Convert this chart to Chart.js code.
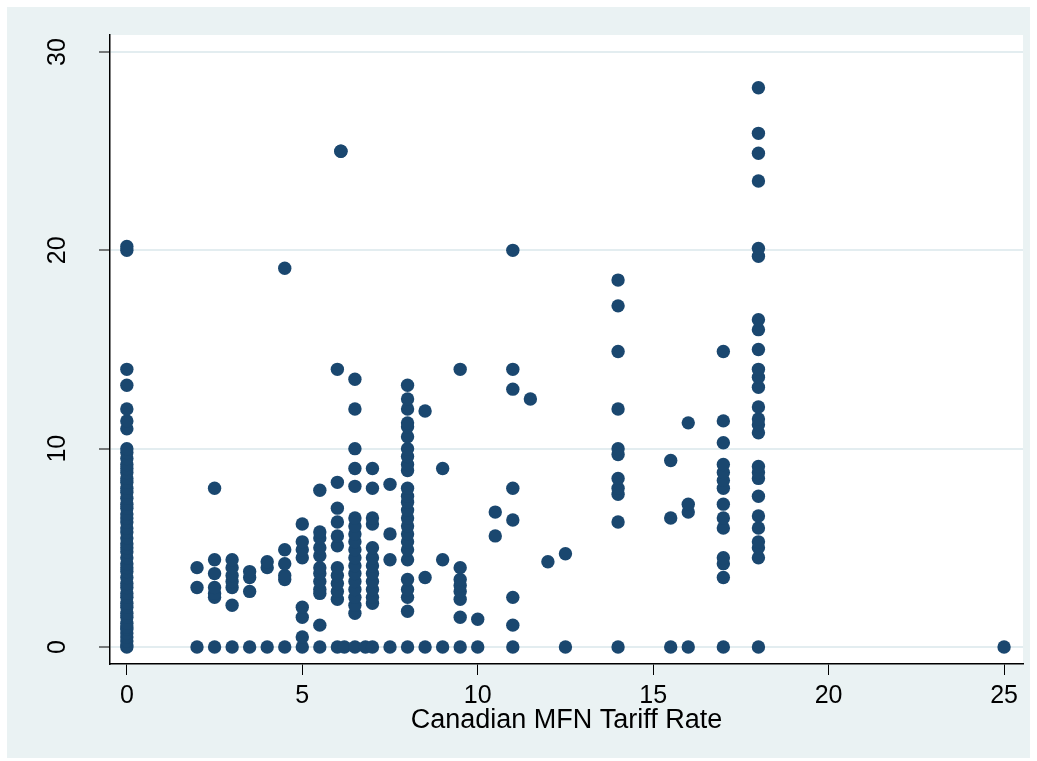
<!DOCTYPE html>
<html>
<head>
<meta charset="utf-8">
<script src="https://cdn.jsdelivr.net/npm/chart.js@4.4.0/dist/chart.umd.min.js"></script>
<style>
  html, body { margin: 0; padding: 0; background: #ffffff; }
  #frame { position: absolute; left: 7px; top: 7px; width: 1023px; height: 751px; background: #eaf2f3; }
</style>
</head>
<body>
<div id="frame"><canvas id="scatter" width="1023" height="751"></canvas></div>
<script>
// y values (second variable) for each Canadian MFN tariff rate
const rate0 = [0, 0.1, 0.3, 0.5, 0.7, 0.9, 1.0, 1.2, 1.5, 1.7, 2.0, 2.2, 2.5, 2.7, 3.0, 3.2, 3.5, 3.8, 4.0, 4.2, 4.5, 4.8, 5.0, 5.2, 5.5, 5.8, 6.0, 6.3, 6.5, 6.7, 7.0, 7.2, 7.5, 7.8, 8.0, 8.3, 8.5, 8.8, 9.0, 9.2, 9.5, 9.8, 10.0, 11.0, 11.4, 12.0, 13.2, 14.0, 20.0, 20.2];
const rate2 = [0, 3.0, 4.0];
const rate2_5 = [0, 2.5, 2.7, 3.0, 3.7, 4.4, 8.0];
const rate3 = [0, 2.1, 3.0, 3.3, 3.6, 4.0, 4.4];
const rate3_5 = [0, 2.8, 3.5, 3.8];
const rate4 = [0, 4.0, 4.3];
const rate4_5 = [0, 3.4, 3.6, 4.2, 4.9, 19.1];
const rate5 = [0, 0.5, 1.5, 2.0, 4.5, 4.9, 5.3, 6.2];
const rate5_5 = [0, 1.1, 2.7, 2.9, 3.3, 3.7, 4.0, 4.6, 5.0, 5.5, 5.8, 7.9];
const rate6 = [0, 2.4, 2.8, 3.2, 3.6, 4.0, 5.1, 5.6, 6.3, 7.0, 8.3, 14.0];
const rate6_1 = [25.0, 25.0];
const rate6_2 = [0];
const rate6_5 = [0, 1.7, 2.1, 2.5, 2.9, 3.3, 3.7, 4.1, 4.5, 4.9, 5.3, 5.7, 6.1, 6.5, 8.1, 9.0, 10.0, 12.0, 13.5];
const rate6_8 = [0];
const rate7 = [0, 2.2, 2.5, 2.9, 3.3, 3.7, 4.1, 4.5, 5.0, 6.2, 6.5, 8.0, 9.0];
const rate7_5 = [0, 4.4, 5.7, 8.2];
const rate8 = [0, 1.8, 2.5, 2.9, 3.4, 4.4, 4.9, 5.3, 5.7, 6.1, 6.5, 6.9, 7.3, 7.6, 8.0, 8.9, 9.2, 9.6, 10.0, 10.6, 11.1, 11.3, 12.0, 12.5, 13.2];
const rate8_5 = [0, 3.5, 11.9];
const rate9 = [0, 4.4, 9.0];
const rate9_5 = [0, 1.5, 2.4, 2.8, 3.1, 3.4, 4.0, 14.0];
const rate10 = [0, 1.4];
const rate10_5 = [5.6, 6.8];
const rate11 = [0, 1.1, 2.5, 6.4, 8.0, 13.0, 14.0, 20.0];
const rate11_5 = [12.5];
const rate12 = [4.3];
const rate12_5 = [0, 4.7];
const rate14 = [0, 6.3, 7.7, 8.0, 8.5, 9.7, 10.0, 12.0, 14.9, 17.2, 18.5];
const rate15_5 = [0, 6.5, 9.4];
const rate16 = [0, 6.8, 7.2, 11.3];
const rate17 = [0, 3.5, 4.2, 4.5, 6.0, 6.5, 7.2, 8.0, 8.4, 8.8, 9.2, 10.3, 11.4, 14.9];
const rate18 = [0, 4.5, 5.0, 5.3, 6.0, 6.6, 7.6, 8.5, 8.8, 9.1, 10.8, 11.2, 11.5, 12.1, 13.1, 13.6, 14.0, 15.0, 16.0, 16.5, 19.7, 20.1, 23.5, 24.9, 25.9, 28.2];
const rate25 = [0];

const columns = [
  [0, rate0], [2, rate2], [2.5, rate2_5], [3, rate3], [3.5, rate3_5], [4, rate4],
  [4.5, rate4_5], [5, rate5], [5.5, rate5_5], [6, rate6], [6.1, rate6_1], [6.2, rate6_2],
  [6.5, rate6_5], [6.8, rate6_8], [7, rate7], [7.5, rate7_5], [8, rate8], [8.5, rate8_5],
  [9, rate9], [9.5, rate9_5], [10, rate10], [10.5, rate10_5], [11, rate11], [11.5, rate11_5],
  [12, rate12], [12.5, rate12_5], [14, rate14], [15.5, rate15_5], [16, rate16], [17, rate17],
  [18, rate18], [25, rate25]
];

const xTicks = [0, 5, 10, 15, 20, 25];
const yTicks = [0, 10, 20, 30];
const xTitle = 'Canadian MFN Tariff Rate';

const points = [];
columns.forEach(function(col) {
  col[1].forEach(function(v) { points.push({ x: col[0], y: v }); });
});

const fontFamily = "'Liberation Sans', Arial, sans-serif";

// white plot region + rotated y labels (Stata style)
const stataLook = {
  id: 'stataLook',
  beforeDraw: function(chart) {
    const a = chart.chartArea;
    const ctx = chart.ctx;
    ctx.save();
    ctx.fillStyle = '#ffffff';
    ctx.fillRect(a.left, a.top, a.right - a.left, a.bottom - a.top);
    ctx.restore();
  },
  afterDraw: function(chart) {
    const ctx = chart.ctx;
    const y = chart.scales.y;
    ctx.save();
    ctx.fillStyle = '#000000';
    ctx.font = '25px ' + fontFamily;
    ctx.textAlign = 'center';
    ctx.textBaseline = 'middle';
    yTicks.forEach(function(v) {
      ctx.save();
      ctx.translate(51, y.getPixelForValue(v));
      ctx.rotate(-Math.PI / 2);
      ctx.fillText(String(v), 0, 0);
      ctx.restore();
    });
    ctx.restore();
  }
};

const config = {
  type: 'scatter',
  data: {
    datasets: [{
      data: points,
      backgroundColor: '#1a476f',
      borderColor: '#1a476f',
      borderWidth: 0,
      pointRadius: 6.7,
      pointHoverRadius: 6.7
    }]
  },
  options: {
    responsive: false,
    animation: false,
    events: [],
    layout: { padding: { left: 0, top: 28, right: 7, bottom: 0 } },
    plugins: { legend: { display: false }, tooltip: { enabled: false } },
    scales: {
      x: {
        type: 'linear',
        min: -0.48,
        max: 25.54,
        afterBuildTicks: function(scale) { scale.ticks = xTicks.map(function(v) { return { value: v }; }); },
        afterFit: function(scale) { scale.height = 94; },
        grid: { drawOnChartArea: false, drawTicks: true, tickLength: 11, tickColor: '#000000', tickWidth: 1 },
        border: { display: true, color: '#000000', width: 1.5 },
        ticks: { color: '#000000', padding: 6, maxRotation: 0, font: { family: fontFamily, size: 25 } },
        title: { display: true, text: xTitle, color: '#000000', padding: { top: 0, bottom: 21 }, font: { family: fontFamily, size: 27 } }
      },
      y: {
        type: 'linear',
        min: -0.86,
        max: 30.86,
        afterBuildTicks: function(scale) { scale.ticks = yTicks.map(function(v) { return { value: v }; }); },
        afterFit: function(scale) { scale.width = 103; },
        grid: { color: '#e3edf0', lineWidth: 2, drawTicks: true, tickLength: 11, tickColor: '#000000', tickWidth: 1 },
        border: { display: true, color: '#000000', width: 1.5 },
        ticks: { display: false }
      }
    }
  },
  plugins: [stataLook]
};

const myChart = new Chart(document.getElementById('scatter'), config);
</script>
</body>
</html>
